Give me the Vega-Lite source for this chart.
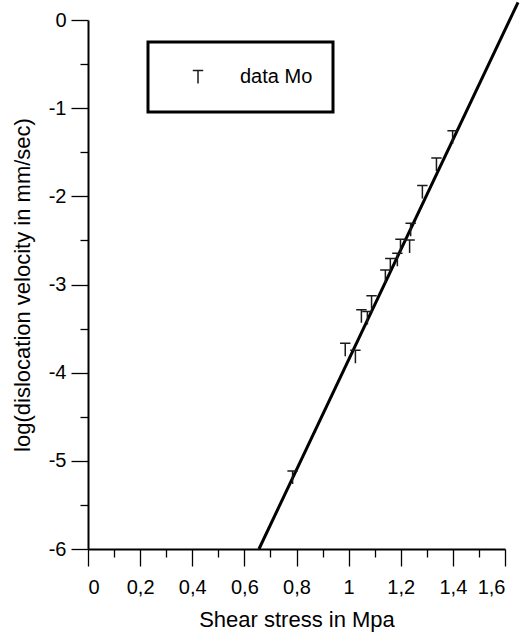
{
  "$schema": "https://vega.github.io/schema/vega-lite/v6.json",
  "width": 417,
  "height": 529,
  "autosize": {"type": "none"},
  "padding": {"left": 88, "top": 20, "right": 18, "bottom": 88},
  "background": "white",
  "config": {
    "view": {"stroke": null},
    "font": "Liberation Sans",
    "legend": {"strokeWidth": 3},
    "axis": {
      "grid": false,
      "domainColor": "black",
      "domainWidth": 2,
      "tickColor": "black",
      "tickWidth": 1.3,
      "labelColor": "black",
      "labelFont": "Liberation Sans",
      "labelFontSize": 20,
      "titleFont": "Liberation Sans",
      "titleFontSize": 22,
      "titleFontWeight": "normal",
      "titleColor": "black"
    }
  },
  "datasets": {
    "fit": [
      {"stress": 0.656, "logv": -6.0},
      {"stress": 1.65, "logv": 0.2}
    ],
    "obs": [
      {"stress": 0.785, "logv": -5.19, "series": "data Mo"},
      {"stress": 0.987, "logv": -3.74, "series": "data Mo"},
      {"stress": 1.026, "logv": -3.82, "series": "data Mo"},
      {"stress": 1.049, "logv": -3.36, "series": "data Mo"},
      {"stress": 1.072, "logv": -3.38, "series": "data Mo"},
      {"stress": 1.088, "logv": -3.2, "series": "data Mo"},
      {"stress": 1.141, "logv": -2.91, "series": "data Mo"},
      {"stress": 1.16, "logv": -2.78, "series": "data Mo"},
      {"stress": 1.187, "logv": -2.72, "series": "data Mo"},
      {"stress": 1.199, "logv": -2.56, "series": "data Mo"},
      {"stress": 1.234, "logv": -2.57, "series": "data Mo"},
      {"stress": 1.238, "logv": -2.38, "series": "data Mo"},
      {"stress": 1.283, "logv": -1.95, "series": "data Mo"},
      {"stress": 1.337, "logv": -1.64, "series": "data Mo"},
      {"stress": 1.399, "logv": -1.33, "series": "data Mo"}
    ]
  },
  "layer": [
    {
      "data": {"name": "fit"},
      "mark": {"type": "line", "color": "black", "strokeWidth": 3},
      "encoding": {
        "x": {
          "field": "stress", "type": "quantitative",
          "scale": {"domain": [0, 1.6], "nice": false, "zero": false},
          "axis": {
            "orient": "bottom",
            "values": [0, 0.2, 0.4, 0.6, 0.8, 1, 1.2, 1.4, 1.6],
            "tickSize": 17,
            "labelPadding": 11,
            "labelExpr": "replace('' + datum.value, '.', ',')",
            "title": "Shear stress in Mpa",
            "titlePadding": 12
          }
        },
        "y": {
          "field": "logv", "type": "quantitative",
          "scale": {"domain": [-6, 0], "nice": false, "zero": false},
          "axis": {
            "orient": "left",
            "values": [-6, -5, -4, -3, -2, -1, 0],
            "tickSize": 17,
            "labelPadding": 5,
            "labelExpr": "'' + datum.value",
            "title": "log(dislocation velocity in mm/sec)",
            "titlePadding": 14
          }
        }
      }
    },
    {
      "data": {"name": "obs"},
      "mark": {
        "type": "point",
        "shape": "M-0.8,-1H0.8M0,-1V1",
        "size": 169,
        "filled": false,
        "strokeWidth": 1.5,
        "opacity": 1
      },
      "encoding": {
        "x": {
          "field": "stress", "type": "quantitative",
          "scale": {"domain": [0, 1.6], "nice": false, "zero": false},
          "axis": {
            "orient": "bottom",
            "values": [0.1, 0.3, 0.5, 0.7, 0.9, 1.1, 1.3, 1.5],
            "tickSize": 8,
            "labels": false,
            "domain": false,
            "title": null
          }
        },
        "y": {
          "field": "logv", "type": "quantitative",
          "scale": {"domain": [-6, 0], "nice": false, "zero": false},
          "axis": {
            "orient": "left",
            "values": [-5.5, -4.5, -3.5, -2.5, -1.5, -0.5],
            "tickSize": 8,
            "labels": false,
            "domain": false,
            "title": null
          }
        },
        "color": {
          "field": "series", "type": "nominal",
          "scale": {"range": ["#1a1a1a"]},
          "legend": {
            "title": null,
            "orient": "none",
            "legendX": 60,
            "legendY": 22,
            "padding": 20,
            "strokeColor": "black",
            "fillColor": "white",
            "symbolType": "M-0.8,-1H0.8M0,-1V1",
            "symbolSize": 169,
            "symbolStrokeWidth": 1.5,
            "symbolFillColor": "transparent",
            "symbolOffset": 20,
            "labelOffset": 32,
            "labelFontSize": 20,
            "labelFont": "Liberation Sans",
            "labelColor": "black",
            "clipHeight": 30
          }
        }
      }
    }
  ],
  "resolve": {"axis": {"x": "independent", "y": "independent"}}
}
